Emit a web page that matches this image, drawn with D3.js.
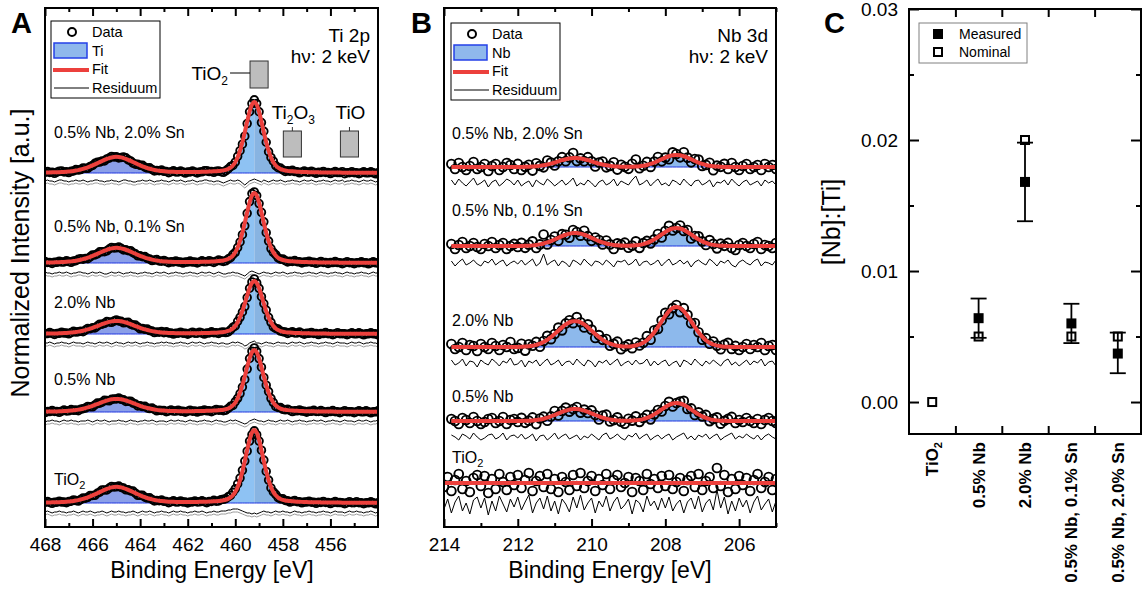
<!DOCTYPE html>
<html>
<head>
<meta charset="utf-8">
<script src="https://cdn.jsdelivr.net/npm/d3@7"></script>
<style>
  body { margin: 0; background: #fff; }
  svg text { font-family: "Liberation Sans", Arial, sans-serif; fill: #000; }
</style>
</head>
<body>
<div id="chart"></div>
<script>
// XPS figure: Ti 2p (A), Nb 3d (B) and [Nb]:[Ti] ratio (C)

// Samples, top to bottom in A and B ("_" marks a subscript)
var samples = ["0.5% Nb, 2.0% Sn", "0.5% Nb, 0.1% Sn", "2.0% Nb", "0.5% Nb", "TiO_2"];

// ---- Panel A: Ti 2p fit values ----
var tiPeakEnergy = [459.2, 465.0];   // 2p3/2, 2p1/2
var tiPeakFwhm = [0.9, 1.9];
var tiOffset = [3.54, 2.64, 1.93, 1.15, 0.24];
var tiHeight32 = [0.71, 0.70, 0.53, 0.62, 0.73];
var tiHeight12 = [0.16, 0.15, 0.13, 0.13, 0.16];
var tiResOffset = [3.46, 2.54, 1.84, 1.06, 0.15];
var tiStart = 468.0, tiStep = 0.1;

// residuum (data - fit) in 0.01 steps, 468 -> 454 eV
var tiRes1 = [0,1,0,0,-1,0,1,1,0,0, -1,0,0,1,0,0,1,0,-1,0, 0,1,1,0,0,-1,0,0,1,0, 0,-1,0,1,1,0,0,-1,-1,0,
  0,1,0,0,1,0,-1,0,0,1, 0,0,-1,0,1,0,0,1,0,-1, 0,0,1,0,-1,0,0,1,1,0, 0,-1,0,0,-1,-2,-1,0,1,0,
  0,1,0,-2,-4,-2,0,1,2,1, 0,-1,1,0,-1,0,1,0,0,1, 0,-1,0,0,1,0,0,-1,0,1, 0,0,1,0,-1,0,0,1,0,0,
  -1,0,1,0,0,1,-1,0,0,1, 0,0,-1,0,1,0,0,1,0,-1,0];
var tiRes2 = [1,0,0,-1,0,0,1,0,0,1, 0,-1,0,0,1,1,0,0,-1,0, 1,0,0,1,0,-1,-1,0,1,0, 0,1,0,-1,0,0,1,0,0,-1,
  0,0,1,0,0,-1,0,1,0,0, 1,0,-1,0,0,1,0,0,-1,0, 0,1,0,0,-1,0,1,0,0,1, 0,-1,0,1,0,-1,-1,0,0,1,
  0,0,-1,-2,-3,-1,1,2,1,0, -1,0,1,0,0,-1,0,1,0,0, 1,0,-1,0,0,1,0,0,-1,0, 0,1,0,0,-1,0,1,0,0,-1,
  0,0,1,0,0,-1,0,1,0,0, -1,0,0,1,0,0,-1,0,1,0,0];
var tiRes3 = [0,0,1,0,-1,0,0,1,0,0, -1,0,1,0,0,0,-1,0,1,0, 0,-1,0,1,0,0,1,0,-1,0, 1,0,0,-1,0,1,0,0,1,0,
  -1,0,0,1,0,0,-1,0,0,1, 0,1,0,0,-1,0,0,1,0,0, -1,0,1,0,0,1,0,-1,0,0, 1,0,0,-1,0,0,-1,-1,0,1,
  0,1,0,-1,-3,-2,0,1,2,0, 0,-1,0,1,0,0,-1,0,1,0, 0,0,-1,0,1,0,0,1,0,-1, 0,0,1,0,0,-1,0,0,1,0,
  0,-1,0,1,0,0,0,-1,0,1, 0,0,1,0,-1,0,0,1,0,0,-1];
var tiRes4 = [-1,0,0,1,0,0,-1,0,1,0, 0,1,0,0,-1,0,0,0,1,0, -1,0,1,0,0,1,0,-1,0,0, 0,1,0,0,-1,0,1,0,0,-1,
  0,0,1,0,0,1,0,-1,0,0, 0,-1,0,1,0,0,1,0,0,-1, 0,1,0,0,-1,0,0,1,0,0, -1,0,1,0,0,-1,-1,0,1,0,
  1,0,-1,-2,-3,-2,0,1,2,1, 0,0,-1,0,1,0,0,-1,0,1, 0,0,1,0,-1,0,0,1,0,0, -1,0,0,1,0,0,1,0,-1,0,
  0,1,0,0,-1,0,1,0,0,0, -1,0,1,0,0,1,0,-1,0,0,1];
var tiRes5 = [0,1,0,-1,0,0,1,0,0,-1, 0,0,1,0,-1,0,1,0,0,1, 0,-1,0,0,1,0,-1,0,1,0, 0,1,0,0,-1,0,0,1,0,-1,
  0,1,0,0,1,0,-1,0,0,1, 0,0,-1,0,1,0,0,1,0,0, -1,0,0,1,0,0,1,0,-1,0, 0,1,0,0,1,1,1,2,2,3,
  3,3,2,1,0,-1,-1,-2,-1,-2, -1,0,1,0,0,-1,0,1,0,0, 1,0,0,-1,0,1,0,0,-1,0, 0,1,0,0,-1,0,0,1,0,0,
  -1,0,1,0,0,0,-1,0,1,0, 0,1,0,0,-1,0,0,1,0,-1,0];
var tiRes = [tiRes1, tiRes2, tiRes3, tiRes4, tiRes5];

// reference binding energies drawn as grey boxes
var tiRefNames = ["TiO_2", "Ti_2O_3", "TiO"];
var tiRefEnergy = [459.0, 457.6, 455.2];

// ---- Panel B: Nb 3d fit values ----
var nbPeakEnergy = [207.7, 210.45];  // 3d5/2, 3d3/2
var nbPeakFwhm = [1.0, 1.1];
var nbOffset = [3.60, 2.81, 1.80, 1.06, 0.44];
var nbHeight52 = [0.12, 0.18, 0.40, 0.18, 0];
var nbHeight32 = [0.09, 0.13, 0.26, 0.12, 0];
var nbResOffset = [3.44, 2.64, 1.64, 0.90, 0.22];
var nbStart = [213.8, 213.8, 213.8, 213.8, 214.0], nbStep = 0.1;

var nbRes1 = [3,-2,4,0,-3,1,5,-2,0,3, -4,1,3,-3,0,4,2,-2,3,-3, 0,2,-4,3,0,-2,4,1,-3,0, 3,-2,1,5,-3,0,-2,3,0,-4,
  1,3,-2,0,4,-3,2,0,-2,3, 7,-2,0,3,-3,1,4,-2,0,-3, 3,1,-2,4,0,-3,2,3,-2,0, 3,-4,1,0,3,-2,4,0,-3,1,
  3,-2,0,2,-3,3,0,2,-2];
var nbRes2 = [2,-3,1,4,-2,0,3,-1,-3,2, 0,4,-2,1,3,-3,0,2,-1,3, -2,1,4,-3,0,9,-2,1,3,-3, 2,0,-4,3,1,-2,4,0,-3,2,
  1,-2,3,0,-4,2,1,3,-2,0, 4,-3,1,2,-2,0,3,-3,1,4, -2,0,3,-1,2,-4,1,3,0,-2, 4,1,-3,2,0,3,-2,-4,1,3,
  0,-2,2,4,-3,1,0,-2,3];
var nbRes3 = [3,-2,0,4,-3,2,1,-4,3,0, -2,4,1,-3,2,0,5,-2,-1,3, -4,2,0,3,-3,1,4,-2,0,3, -3,1,2,-2,4,0,-3,3,1,-4,
  2,0,3,-2,1,4,-3,0,2,-2, 3,-1,0,4,-3,2,-2,1,3,-3, 0,2,-4,3,1,-2,4,0,-3,2, -1,3,0,-3,2,4,-2,1,-3,0,
  3,-2,2,0,4,-3,1,2,-3];
var nbRes4 = [2,0,-3,3,1,-2,4,0,-3,-1, 2,3,-2,0,4,-3,1,2,-1,3, -2,0,3,-4,1,2,-3,0,4,-2, 1,3,-2,0,2,-3,1,-1,3,0,
  -3,2,4,-2,0,3,-1,-3,2,0, 4,-2,1,3,-3,0,2,-2,1,3, -3,0,2,4,-2,1,-3,2,0,3, -2,1,3,-3,0,2,4,-2,1,-1,
  3,0,-2,2,-3,1,3,0,-2];
var nbRes5 = [-4,6,-8,3,9,-6,2,-9,5,8, -3,7,-10,4,-6,9,1,-7,6,-2, 8,-5,3,10,-8,2,7,-4,9,-6, 4,-9,6,1,-7,8,-3,10,-5,2,
  7,-8,4,-2,9,-6,3,8,-4,0, 6,-9,5,2,-7,9,-1,4,-5,7, -3,8,-6,1,5,-8,3,7,-4,9, -7,2,6,-5,15,-3,8,-9,4,-6,
  7,-2,5,-8,3,9,-5,1,6,-7, 4];
var nbRes = [nbRes1, nbRes2, nbRes3, nbRes4, nbRes5];

// ---- Panel C: [Nb]:[Ti] ----
var cLabels = ["TiO_2", "0.5% Nb", "2.0% Nb", "0.5% Nb, 0.1% Sn", "0.5% Nb, 2.0% Sn"];
var measured = [null, 0.0064, 0.0168, 0.0060, 0.0037];
var measuredLow = [null, 0.0049, 0.0138, 0.0045, 0.0022];
var measuredHigh = [null, 0.0079, 0.0198, 0.0075, 0.0053];
var nominal = [0, 0.005, 0.02, 0.005, 0.005];

// tick labels
var tickA = [468, 466, 464, 462, 460, 458, 456];
var tickB = [214, 212, 210, 208, 206];
var tickC = [0, 0.01, 0.02, 0.03];

var red = "#ec403c";

// SVG
var svgWidth = 1145, svgHeight = 589;
var svg = d3.select("#chart").append("svg")
  .attr("width", svgWidth)
  .attr("height", svgHeight);
svg.append("rect").attr("width", svgWidth).attr("height", svgHeight).attr("fill", "#fff");

var boxA = {left: 45, right: 378, top: 8, bottom: 527};
var boxB = {left: 444, right: 776, top: 8, bottom: 527};
var boxC = {left: 909, right: 1141, top: 9, bottom: 434};

var xA = d3.scaleLinear().domain([468, 454]).range([boxA.left, boxA.right]);
var yA = d3.scaleLinear().domain([0, 5.19]).range([boxA.bottom, boxA.top]);
var xB = d3.scaleLinear().domain([214, 205]).range([boxB.left, boxB.right]);
var yB = d3.scaleLinear().domain([0, 5.19]).range([boxB.bottom, boxB.top]);
var xC = d3.scaleLinear().domain([0.5, 5.5]).range([boxC.left, boxC.right]);
var yC = d3.scaleLinear().domain([-0.00244, 0.03]).range([boxC.bottom, boxC.top]);

// helpers
function peak(e, e0, w, h, mix) {
  var d = (e - e0) / w;
  return h * ((1 - mix) * Math.exp(-4 * Math.LN2 * d * d) + mix / (1 + 4 * d * d));
}

// text with "_2" style subscripts
function chem(text, str, subSize, shift) {
  var parts = str.split(/_(\d)/);
  var down = false;
  parts.forEach(function(p, i) {
    if (p === "") return;
    var t = text.append("tspan").text(p);
    if (i % 2 === 1) { t.attr("font-size", subSize).attr("dy", shift); down = true; }
    else if (down) { t.attr("dy", -shift); down = false; }
  });
  return text;
}

function clipFor(id, box) {
  svg.append("clipPath").attr("id", id).append("rect")
    .attr("x", box.left).attr("y", box.top)
    .attr("width", box.right - box.left).attr("height", box.bottom - box.top);
}

function frame(box) {
  svg.append("rect")
    .attr("x", box.left).attr("y", box.top)
    .attr("width", box.right - box.left).attr("height", box.bottom - box.top)
    .attr("fill", "none").attr("stroke", "#000").attr("stroke-width", 2);
}

function styleAxis(g) {
  g.select(".domain").remove();
  g.selectAll(".tick line").attr("stroke", "#000").attr("stroke-width", 2);
  g.selectAll(".tick text").attr("font-size", 19).attr("fill", "#000")
    .attr("font-family", "Liberation Sans, Arial, sans-serif");
}

function energyAxes(x, box, major, minor) {
  svg.append("g").attr("transform", "translate(0," + box.bottom + ")")
    .call(d3.axisBottom(x).tickValues(major).tickSize(-8).tickSizeOuter(0).tickPadding(11).tickFormat(d3.format("d")))
    .call(styleAxis);
  svg.append("g").attr("transform", "translate(0," + box.bottom + ")")
    .call(d3.axisBottom(x).tickValues(minor).tickSize(-4).tickSizeOuter(0).tickFormat(""))
    .call(styleAxis);
  svg.append("g").attr("transform", "translate(0," + box.top + ")")
    .call(d3.axisTop(x).tickValues(major).tickSize(-8).tickSizeOuter(0).tickFormat(""))
    .call(styleAxis);
  svg.append("g").attr("transform", "translate(0," + box.top + ")")
    .call(d3.axisTop(x).tickValues(minor).tickSize(-4).tickSizeOuter(0).tickFormat(""))
    .call(styleAxis);
}

// one stacked spectrum: fills, data circles, fit, residuum
function drawStack(g, x, y, s) {
  var energies = s.res.map(function(r, i) { return +(s.start - i * s.step).toFixed(3); });
  var fit = function(e) {
    return s.offset + d3.sum(s.peaks, function(p) { return peak(e, p.e, p.w, p.h, p.mix); });
  };

  // component fills, outline drawn once over the whole component
  s.peaks.forEach(function(p) {
    if (p.h <= 0) return;
    var pts = energies.filter(function(e) { return peak(e, p.e, p.w, p.h, p.mix) > 0.003; });
    var area = d3.area()
      .x(function(e) { return x(e); })
      .y0(y(s.offset))
      .y1(function(e) { return y(s.offset + peak(e, p.e, p.w, p.h, p.mix)); })
      .curve(d3.curveMonotoneX);
    var parts = p.split
      ? [[pts.filter(function(e) { return e >= p.e - 1e-6; }), p.fill],
         [pts.filter(function(e) { return e <= p.e + 1e-6; }), p.fill2]]
      : [[pts, p.fill]];
    parts.forEach(function(part) {
      g.append("path").datum(part[0]).attr("d", area).attr("fill", part[1]).attr("stroke", "none");
    });
    g.append("path").datum(pts).attr("d", area)
      .attr("fill", "none").attr("stroke", "#1f35e0").attr("stroke-width", 1);
  });

  // data circles
  g.selectAll(null).data(energies).enter().append("circle")
    .attr("cx", function(e) { return x(e); })
    .attr("cy", function(e, i) { return y(fit(e) + s.res[i] * 0.01); })
    .attr("r", s.r)
    .attr("fill", "none")
    .attr("stroke", "#000")
    .attr("stroke-width", 1.9);

  // fit
  g.append("path").datum(energies)
    .attr("d", d3.line().x(function(e) { return x(e); }).y(function(e) { return y(fit(e)); }).curve(d3.curveMonotoneX))
    .attr("fill", "none").attr("stroke", red).attr("stroke-width", 4);

  // residuum
  var resLine = function(off) {
    return d3.line()
      .x(function(e) { return x(e); })
      .y(function(e, i) { return y(off + s.res[i] * 0.01); });
  };
  if (s.shadow) {
    g.append("path").datum(energies).attr("d", resLine(s.resOffset - 0.03))
      .attr("fill", "none").attr("stroke", "#9a9a9a").attr("stroke-width", 1);
  }
  g.append("path").datum(energies).attr("d", resLine(s.resOffset))
    .attr("fill", "none").attr("stroke", "#000").attr("stroke-width", 1);
}

function legend(x0, y0, compName) {
  var g = svg.append("g");
  g.append("rect").attr("x", x0).attr("y", y0).attr("width", 109).attr("height", 77)
    .attr("fill", "#fff").attr("stroke", "#000").attr("stroke-width", 1);
  g.append("circle").attr("cx", x0 + 21).attr("cy", y0 + 11).attr("r", 4)
    .attr("fill", "none").attr("stroke", "#000").attr("stroke-width", 2);
  g.append("rect").attr("x", x0 + 3).attr("y", y0 + 22).attr("width", 33).attr("height", 15)
    .attr("fill", "#8fb8ec").attr("stroke", "#2440e8").attr("stroke-width", 1.5);
  g.append("line").attr("x1", x0 + 2).attr("x2", x0 + 38).attr("y1", y0 + 49).attr("y2", y0 + 49)
    .attr("stroke", red).attr("stroke-width", 4);
  g.append("line").attr("x1", x0 + 3).attr("x2", x0 + 38).attr("y1", y0 + 67).attr("y2", y0 + 67)
    .attr("stroke", "#000").attr("stroke-width", 1);
  ["Data", compName, "Fit", "Residuum"].forEach(function(t, i) {
    g.append("text").attr("x", x0 + 41).attr("y", y0 + 16 + i * 18.7)
      .attr("font-size", 14.5).text(t);
  });
}

// Step 1: Panel A
clipFor("clipA", boxA);
var gA = svg.append("g").attr("clip-path", "url(#clipA)");
samples.forEach(function(name, k) {
  drawStack(gA, xA, yA, {
    res: tiRes[k], start: tiStart, step: tiStep, offset: tiOffset[k], resOffset: tiResOffset[k],
    r: 3.8, shadow: true,
    peaks: [
      {e: tiPeakEnergy[1], w: tiPeakFwhm[1], h: tiHeight12[k], mix: 0.3, fill: "#8b9fe8"},
      {e: tiPeakEnergy[0], w: tiPeakFwhm[0], h: tiHeight32[k], mix: 0.3, fill: "#8ec2f3", fill2: "#88b4e2", split: true}
    ]
  });
});
var labelYA = [138, 232, 308, 385, 485];
samples.forEach(function(name, k) {
  chem(svg.append("text").attr("x", 54).attr("y", labelYA[k]).attr("font-size", 16), name, 11, 4);
});

// reference boxes
tiRefEnergy.forEach(function(e, i) {
  var cx = xA(e);
  var top = i === 0 ? 61 : 131, bot = i === 0 ? 88 : 157;
  svg.append("rect").attr("x", xA(e + 0.38)).attr("y", top)
    .attr("width", xA(e - 0.38) - xA(e + 0.38)).attr("height", bot - top)
    .attr("fill", "#bdbdbd").attr("stroke", "#333").attr("stroke-width", 1);
  if (i === 0) {
    svg.append("line").attr("x1", xA(e + 0.38) - 20).attr("x2", xA(e + 0.38))
      .attr("y1", 73).attr("y2", 73).attr("stroke", "#000").attr("stroke-width", 1);
    chem(svg.append("text").attr("x", xA(e + 0.38) - 22).attr("y", 80)
      .attr("text-anchor", "end").attr("font-size", 19), tiRefNames[i], 12, 5);
  } else {
    svg.append("line").attr("x1", cx).attr("x2", cx).attr("y1", 127).attr("y2", top)
      .attr("stroke", "#333").attr("stroke-width", 1);
    chem(svg.append("text").attr("x", cx + 1).attr("y", 119)
      .attr("text-anchor", "middle").attr("font-size", 19), tiRefNames[i], 12, 5);
  }
});

energyAxes(xA, boxA, tickA, d3.range(467, 454, -2));
frame(boxA);
legend(51, 21, "Ti");
svg.append("text").attr("x", 370).attr("y", 42).attr("text-anchor", "end").attr("font-size", 19).text("Ti 2p");
svg.append("text").attr("x", 370).attr("y", 63).attr("text-anchor", "end").attr("font-size", 19).text("h\u03bd: 2 keV");
svg.append("text").attr("transform", "translate(29,253) rotate(-90)").attr("text-anchor", "middle")
  .attr("font-size", 25).text("Normalized Intensity [a.u.]");
svg.append("text").attr("x", 212).attr("y", 578).attr("text-anchor", "middle").attr("font-size", 23)
  .text("Binding Energy [eV]");
svg.append("text").attr("x", 11).attr("y", 33).attr("font-size", 29).attr("font-weight", "bold").text("A");

// Step 2: Panel B
clipFor("clipB", boxB);
var gB = svg.append("g").attr("clip-path", "url(#clipB)");
samples.forEach(function(name, k) {
  drawStack(gB, xB, yB, {
    res: nbRes[k], start: nbStart[k], step: nbStep, offset: nbOffset[k], resOffset: nbResOffset[k],
    r: 4.4, shadow: false,
    peaks: [
      {e: nbPeakEnergy[1], w: nbPeakFwhm[1], h: nbHeight32[k], mix: 0, fill: "#8db9ec"},
      {e: nbPeakEnergy[0], w: nbPeakFwhm[0], h: nbHeight52[k], mix: 0, fill: "#8db9ec"}
    ]
  });
});
var labelYB = [139, 216, 326, 402, 463];
samples.forEach(function(name, k) {
  chem(svg.append("text").attr("x", 452).attr("y", labelYB[k]).attr("font-size", 16), name, 11, 4);
});
energyAxes(xB, boxB, tickB, d3.range(213, 204.5, -2));
frame(boxB);
legend(451, 23, "Nb");
svg.append("text").attr("x", 768).attr("y", 42).attr("text-anchor", "end").attr("font-size", 19).text("Nb 3d");
svg.append("text").attr("x", 768).attr("y", 63).attr("text-anchor", "end").attr("font-size", 19).text("h\u03bd: 2 keV");
svg.append("text").attr("x", 610).attr("y", 578).attr("text-anchor", "middle").attr("font-size", 23)
  .text("Binding Energy [eV]");
svg.append("text").attr("x", 411).attr("y", 33).attr("font-size", 29).attr("font-weight", "bold").text("B");

// Step 3: Panel C
svg.append("g").attr("transform", "translate(" + boxC.left + ",0)")
  .call(d3.axisLeft(yC).tickValues(tickC).tickSize(-10).tickSizeOuter(0).tickPadding(11).tickFormat(d3.format(".2f")))
  .call(styleAxis);
svg.append("g").attr("transform", "translate(" + boxC.left + ",0)")
  .call(d3.axisLeft(yC).tickValues([0.005, 0.015, 0.025]).tickSize(-5).tickSizeOuter(0).tickFormat(""))
  .call(styleAxis);
svg.append("g").attr("transform", "translate(" + boxC.right + ",0)")
  .call(d3.axisRight(yC).tickValues(tickC).tickSize(-10).tickSizeOuter(0).tickFormat(""))
  .call(styleAxis);
svg.append("g").attr("transform", "translate(" + boxC.right + ",0)")
  .call(d3.axisRight(yC).tickValues([0.005, 0.015, 0.025]).tickSize(-5).tickSizeOuter(0).tickFormat(""))
  .call(styleAxis);
svg.append("g").attr("transform", "translate(0," + boxC.bottom + ")")
  .call(d3.axisBottom(xC).tickValues([1.5, 2.5, 3.5, 4.5]).tickSize(-8).tickSizeOuter(0).tickFormat(""))
  .call(styleAxis);
svg.append("g").attr("transform", "translate(0," + boxC.top + ")")
  .call(d3.axisTop(xC).tickValues([1.5, 2.5, 3.5, 4.5]).tickSize(-8).tickSizeOuter(0).tickFormat(""))
  .call(styleAxis);
frame(boxC);

var gC = svg.append("g");
var sq = 10;
gC.selectAll(".nom").data(nominal).enter().append("rect")
  .attr("x", function(d, i) { return xC(i + 1) - sq / 2 + 1; })
  .attr("y", function(d) { return yC(d) - sq / 2 + 1; })
  .attr("width", sq - 2).attr("height", sq - 2)
  .attr("fill", "none").attr("stroke", "#000").attr("stroke-width", 2);

measured.forEach(function(m, i) {
  if (m === null) return;
  var cx = xC(i + 1);
  gC.append("line").attr("x1", cx).attr("x2", cx)
    .attr("y1", yC(measuredLow[i])).attr("y2", yC(measuredHigh[i]))
    .attr("stroke", "#000").attr("stroke-width", 1.8);
  [measuredLow[i], measuredHigh[i]].forEach(function(v) {
    gC.append("line").attr("x1", cx - 8).attr("x2", cx + 8).attr("y1", yC(v)).attr("y2", yC(v))
      .attr("stroke", "#000").attr("stroke-width", 1.8);
  });
  gC.append("rect").attr("x", cx - sq / 2).attr("y", yC(m) - sq / 2)
    .attr("width", sq).attr("height", sq).attr("fill", "#000");
});

cLabels.forEach(function(name, i) {
  var cx = xC(i + 1) + 6;
  chem(svg.append("text").attr("transform", "translate(" + cx + ",442) rotate(-90)")
    .attr("text-anchor", "end").attr("font-size", 17).attr("font-weight", "bold"), name, 11, 4);
});

// legend C
svg.append("rect").attr("x", 919).attr("y", 23).attr("width", 108).attr("height", 40)
  .attr("fill", "#fff").attr("stroke", "#808080").attr("stroke-width", 1);
svg.append("rect").attr("x", 933).attr("y", 29).attr("width", 10).attr("height", 10).attr("fill", "#000");
svg.append("rect").attr("x", 934).attr("y", 48).attr("width", 8).attr("height", 8)
  .attr("fill", "#fff").attr("stroke", "#000").attr("stroke-width", 2);
svg.append("text").attr("x", 959).attr("y", 39).attr("font-size", 14).text("Measured");
svg.append("text").attr("x", 959).attr("y", 57).attr("font-size", 14).text("Nominal");

svg.append("text").attr("transform", "translate(840,222) rotate(-90)").attr("text-anchor", "middle")
  .attr("font-size", 25).text("[Nb]:[Ti]");
svg.append("text").attr("x", 824).attr("y", 33).attr("font-size", 29).attr("font-weight", "bold").text("C");
</script>
</body>
</html>
